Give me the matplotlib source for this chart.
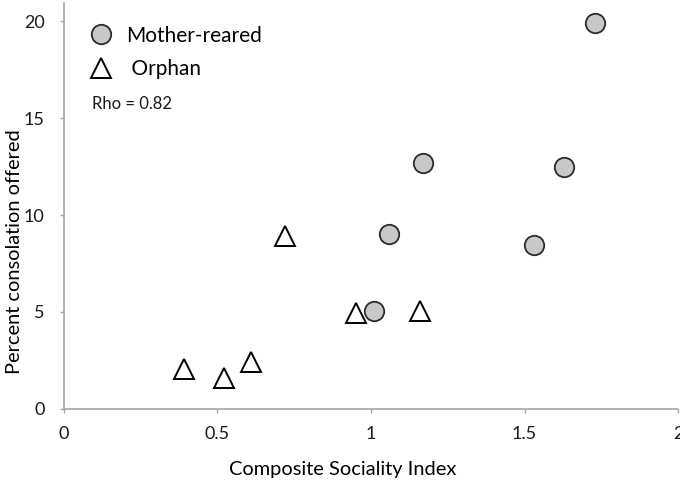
import matplotlib
matplotlib.use("Agg")
import matplotlib.pyplot as plt
from matplotlib.lines import Line2D

plt.rcParams["font.family"] = ["Lato", "DejaVu Sans"]

# mother-reared juveniles
mother_csi = [1.73, 1.17, 1.63, 1.06, 1.53, 1.01]
mother_pct = [19.9, 12.7, 12.5, 9.0, 8.45, 5.05]

# orphans
orphan_csi = [0.39, 0.52, 0.61, 0.72, 0.95, 1.16]
orphan_pct = [2.05, 1.6, 2.4, 8.9, 4.95, 5.05]

rho_text = "Rho = 0.82"
x_ticks = [0, 0.5, 1, 1.5, 2]
x_labels = ["0", "0.5", "1", "1.5", "2"]
y_ticks = [0, 5, 10, 15, 20]

GREY_FILL = "#c8c8c8"
EDGE = "#2b2b2b"
AXIS = "#a6a6a6"

fig = plt.figure(figsize=(6.8, 4.82), dpi=100)
ax = fig.add_axes([0.0941, 0.1515, 0.903, 0.8423])

ax.plot(mother_csi, mother_pct, ls="none", marker="o", ms=14,
        mfc=GREY_FILL, mec=EDGE, mew=1.3, zorder=3)
ax.plot(orphan_csi, orphan_pct, ls="none", marker="^", ms=14.5,
        mfc="white", mec="black", mew=1.4, zorder=3)

ax.set_xlim(0, 2)
ax.set_ylim(0, 20.93)
ax.set_xticks(x_ticks)
ax.set_xticklabels(x_labels)
ax.set_yticks(y_ticks)

for s in ("top", "right"):
    ax.spines[s].set_visible(False)
for s in ("left", "bottom"):
    ax.spines[s].set_color(AXIS)
    ax.spines[s].set_linewidth(1.2)
ax.tick_params(axis="both", colors=AXIS, labelcolor="#1a1a1a",
               labelsize=13, length=3, width=1)
ax.tick_params(axis="y", pad=11)
ax.tick_params(axis="x", pad=9)

ax.set_xlabel("Composite Sociality Index", fontsize=14.4, va="top")
ax.xaxis.set_label_coords(0.4544, -0.128)
ax.set_ylabel("Percent consolation offered", fontsize=14.4)
ax.yaxis.set_label_coords(-0.0668, 0.3867)

handles = [
    Line2D([], [], ls="none", marker="o", ms=14, mfc=GREY_FILL, mec=EDGE,
           mew=1.3, label="Mother-reared"),
    Line2D([], [], ls="none", marker="^", ms=14.5, mfc="white", mec="black",
           mew=1.4, label=" Orphan"),
]
ax.legend(handles=handles, loc="upper left", bbox_to_anchor=(0.03, 0.965),
          frameon=False, fontsize=15, handlelength=1.0, handletextpad=0.7,
          labelspacing=0.65, borderaxespad=0)

ax.text(0.0456, 0.751, rho_text, transform=ax.transAxes, fontsize=12,
        va="center", ha="left", color="#1a1a1a")

fig.savefig("out.png", dpi=100)
